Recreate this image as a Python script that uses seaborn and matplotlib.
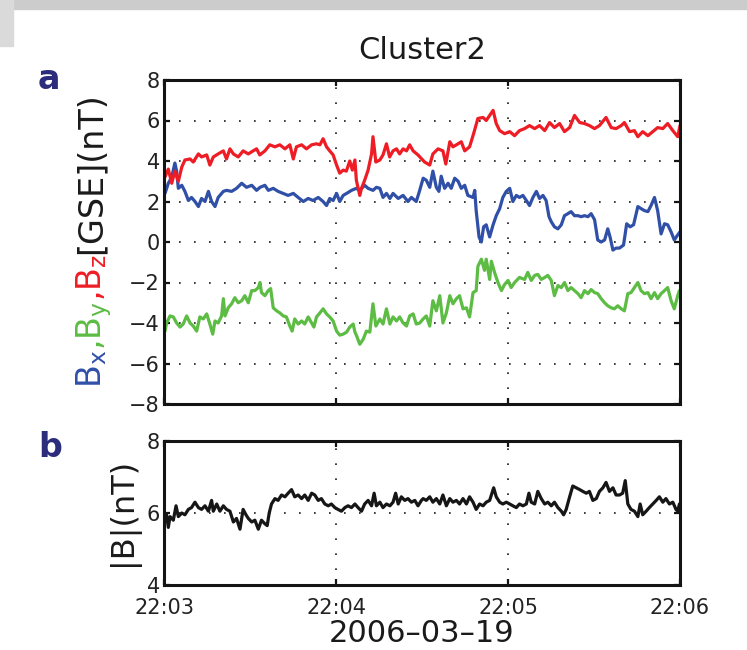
import matplotlib
matplotlib.use("Agg")
import numpy as np
import pandas as pd
import seaborn as sns
import matplotlib.pyplot as plt
from matplotlib.transforms import IdentityTransform
from matplotlib.patches import Rectangle

sns.set_style("ticks")
plt.rcParams["font.family"] = ["DejaVu Sans"]
plt.rcParams["mathtext.default"] = "regular"

# ---------------- data (seconds after 22:03:00, value in nT) ----------------
TITLE = "Cluster2"
DATE_LABEL = "2006\u201303\u201319"
TICK_SECONDS = [0, 60, 120, 180]
TICK_LABELS = ["22:03", "22:04", "22:05", "22:06"]
TOP_YTICKS = [-8, -6, -4, -2, 0, 2, 4, 6, 8]
BOTTOM_YTICKS = [4, 6, 8]

BX_SAMPLES = [(0.35,2.4),(1.5,2.9),(2.7,3.2),(3.8,3.9),(4.4,3.5),(5.0,2.65),(6.2,2.8),(7.3,2.5),(8.5,2.05),(9.6,2.2),(10.8,2.0),(12.0,1.75),(13.1,2.15),(14.3,2.0),(15.5,2.5),(16.6,2.0),(17.8,1.75),(18.9,2.2),(20.7,2.5),(21.8,2.55),(23.6,2.5),(25.3,2.65),(27.1,2.9),(28.8,2.7),(30.6,2.8),(32.3,2.55),(33.5,2.7),(35.2,2.8),(36.4,2.55),(38.1,2.65),(39.8,2.5),(41.6,2.4),(43.3,2.3),(45.1,2.4),(46.8,2.2),(48.6,2.0),(50.3,2.15),(52.0,2.05),(53.8,2.2),(55.5,2.0),(56.7,1.8),(57.8,2.15),(59.0,2.05),(60.2,2.4),(61.3,2.0),(62.5,2.3),(63.7,2.4),(65.4,2.55),(67.1,2.65),(68.3,2.55),(70.0,2.8),(71.2,2.65),(72.9,2.55),(74.1,2.7),(75.3,2.65),(76.4,2.2),(77.6,2.4),(78.8,2.15),(79.9,2.4),(81.7,2.15),(83.4,2.3),(85.1,2.0),(86.3,2.2),(88.0,2.0),(89.2,2.55),(90.4,3.15),(91.5,3.05),(92.7,2.7),(93.8,3.5),(95.0,2.7),(95.9,2.5),(96.7,3.25),(97.9,2.65),(99.1,2.9),(100.2,2.65),(101.4,3.15),(102.6,3.0),(103.7,2.65),(104.9,2.8),(106.0,2.3),(107.8,2.2),(108.4,2.55),(108.9,1.55),(109.9,0.25),(110.7,0.0),(111.5,0.75),(112.4,0.85),(113.6,0.25),(114.8,0.85),(115.9,1.3),(117.1,1.65),(118.2,2.2),(119.4,2.5),(120.6,2.65),(121.7,2.0),(122.9,2.3),(124.0,2.2),(125.2,2.3),(126.4,2.05),(127.5,1.8),(128.7,2.2),(129.9,2.5),(131.0,2.15),(132.2,2.3),(133.3,2.05),(134.3,1.25),(135.1,1.0),(136.2,0.75),(137.4,0.65),(138.6,0.85),(139.7,1.3),(140.9,1.4),(142.0,1.5),(143.2,1.3),(144.4,1.3),(145.5,1.25),(146.7,1.3),(147.9,1.25),(149.0,1.4),(150.2,1.1),(151.3,0.1),(152.5,0.0),(153.7,0.1),(154.8,0.65),(155.6,0.25),(156.6,-0.4),(157.7,-0.3),(158.9,-0.3),(160.3,-0.15),(161.4,0.9),(162.6,0.75),(163.8,0.85),(165.3,1.75),(166.4,1.65),(167.6,1.55),(168.8,1.5),(169.9,1.8),(171.1,2.2),(172.2,1.55),(173.4,0.4),(174.6,0.9),(175.7,0.85),(176.9,0.5),(178.0,0.1),(179.2,0.35),(180.0,0.5)]

BY_SAMPLES = [(0.35,-4.4),(0.9,-4.0),(2.1,-3.65),(3.25,-3.7),(4.4,-4.0),(5.6,-4.2),(6.7,-4.05),(7.9,-3.65),(9.1,-4.0),(10.2,-4.15),(11.4,-4.4),(12.5,-3.7),(13.7,-3.8),(14.9,-3.55),(16.0,-4.05),(17.0,-4.55),(17.8,-3.9),(18.9,-4.0),(20.1,-3.65),(20.7,-2.8),(21.3,-3.65),(22.4,-3.25),(23.6,-3.05),(24.7,-2.75),(25.9,-3.0),(27.1,-2.9),(28.2,-2.65),(29.4,-3.0),(30.6,-2.4),(31.7,-2.4),(32.9,-2.25),(33.5,-2.0),(34.0,-2.5),(35.2,-2.65),(36.35,-2.4),(37.2,-2.3),(38.1,-3.25),(39.3,-3.4),(40.4,-3.5),(41.6,-3.65),(42.7,-3.7),(43.9,-4.15),(44.7,-4.4),(45.6,-3.8),(46.8,-4.05),(48.0,-3.9),(49.1,-4.05),(50.3,-3.7),(51.5,-4.0),(52.3,-4.2),(53.2,-3.7),(54.4,-3.5),(55.5,-3.3),(56.7,-3.55),(57.8,-3.7),(59.0,-3.9),(60.2,-4.4),(61.3,-4.6),(62.5,-4.55),(63.7,-4.45),(64.8,-4.2),(66.0,-4.05),(66.6,-4.45),(67.1,-4.6),(68.3,-5.05),(69.5,-4.8),(70.6,-4.4),(71.8,-4.45),(72.9,-3.05),(73.9,-4.15),(75.3,-3.8),(76.4,-4.05),(77.6,-3.3),(78.8,-4.05),(79.9,-3.7),(81.1,-3.9),(82.2,-3.7),(83.4,-4.0),(84.6,-4.15),(85.7,-3.65),(86.9,-3.55),(88.0,-4.05),(89.2,-4.0),(90.4,-3.8),(91.5,-3.65),(92.7,-4.15),(93.8,-2.9),(95.0,-3.4),(96.2,-2.65),(97.3,-4.0),(98.5,-3.5),(99.7,-2.65),(100.8,-3.05),(102.0,-2.8),(103.1,-2.65),(104.3,-3.3),(105.5,-3.25),(106.6,-3.7),(107.8,-2.5),(108.9,-2.4),(109.5,-1.2),(110.7,-0.85),(111.8,-1.4),(112.4,-0.85),(113.6,-1.85),(114.2,-0.95),(115.3,-1.5),(116.5,-2.0),(117.7,-2.4),(118.8,-2.1),(120.0,-1.9),(121.1,-2.25),(122.3,-2.0),(124.0,-1.75),(125.8,-1.85),(126.9,-1.5),(128.1,-1.9),(129.3,-1.65),(130.4,-1.6),(131.6,-1.85),(132.8,-1.75),(133.9,-1.65),(135.1,-1.9),(136.2,-2.65),(137.4,-2.15),(138.6,-2.25),(139.7,-2.0),(140.9,-2.4),(142.0,-2.25),(143.2,-2.4),(144.4,-2.55),(145.5,-2.75),(146.7,-2.4),(147.9,-2.55),(149.0,-2.35),(150.2,-2.5),(151.3,-2.55),(152.5,-2.8),(153.7,-3.0),(154.8,-3.15),(156.0,-3.25),(157.1,-3.3),(158.3,-3.15),(159.5,-3.3),(160.6,-3.4),(161.8,-2.55),(162.9,-2.5),(164.1,-2.25),(165.3,-2.0),(166.4,-2.4),(167.6,-2.55),(168.8,-2.5),(169.9,-2.8),(171.1,-2.5),(172.2,-2.8),(173.4,-2.55),(174.6,-2.4),(175.7,-2.25),(176.9,-2.9),(178.0,-3.3),(179.2,-2.65),(179.8,-2.4)]

BZ_SAMPLES = [(0.3,3.2),(1.5,3.6),(2.7,2.9),(3.8,3.5),(5.0,3.0),(6.2,3.7),(7.3,4.05),(9.1,4.1),(10.2,3.95),(12.0,4.35),(13.1,4.2),(14.9,4.3),(16.0,3.8),(17.2,4.2),(18.9,4.35),(20.7,4.5),(21.8,4.1),(23.0,4.6),(24.2,4.35),(25.9,4.2),(27.6,4.5),(29.4,4.35),(31.1,4.5),(32.3,4.6),(33.4,4.3),(35.2,4.5),(36.9,4.8),(38.7,4.7),(40.4,4.8),(42.2,4.6),(43.9,4.8),(45.1,4.1),(46.2,4.7),(48.0,4.8),(49.7,4.6),(51.5,4.8),(53.2,4.85),(54.4,4.8),(55.5,5.1),(56.7,4.7),(57.8,4.5),(59.0,4.3),(60.2,3.8),(61.3,3.4),(62.5,3.55),(63.6,3.5),(64.8,4.0),(65.7,3.55),(66.6,4.05),(67.1,3.05),(68.3,2.3),(68.9,2.65),(70.0,3.05),(71.2,3.55),(72.4,4.35),(72.9,5.2),(73.9,3.95),(75.3,4.05),(76.4,4.3),(77.6,4.85),(78.7,4.2),(79.9,4.5),(81.1,4.6),(82.2,4.35),(83.4,4.6),(84.6,4.5),(85.7,4.8),(86.9,4.5),(88.6,4.3),(90.9,3.95),(92.7,3.8),(93.8,4.35),(95.6,4.6),(97.3,4.5),(98.3,3.85),(99.7,4.95),(100.8,4.7),(102.6,4.85),(103.7,4.95),(104.9,4.5),(106.6,4.7),(108.0,5.35),(109.5,6.1),(111.3,6.15),(112.4,6.0),(113.6,6.25),(114.8,6.5),(115.9,5.85),(117.1,5.5),(118.8,5.35),(120.6,5.45),(122.3,5.25),(124.0,5.5),(125.8,5.6),(127.5,5.75),(129.3,5.6),(131.0,5.75),(132.8,5.5),(134.5,5.9),(136.2,5.65),(138.0,5.85),(139.7,5.45),(141.5,5.65),(143.2,6.25),(145.0,5.9),(146.7,5.85),(148.4,5.75),(150.2,5.6),(151.9,5.75),(154.2,6.15),(156.0,5.65),(157.7,5.6),(159.5,5.75),(160.6,5.9),(162.4,5.45),(164.1,5.5),(165.3,5.2),(167.0,5.45),(168.8,5.25),(170.5,5.45),(172.2,5.65),(174.0,5.6),(175.7,5.85),(177.5,5.5),(179.2,5.2),(180.0,5.75)]

BT_SAMPLES = [(0.35,5.9),(0.9,5.95),(1.5,5.6),(2.1,5.9),(3.25,5.8),(4.2,6.2),(5.0,5.9),(6.2,6.0),(7.3,5.95),(8.5,6.1),(9.6,6.15),(10.8,6.3),(12.0,6.15),(13.1,6.1),(14.3,6.2),(15.5,6.05),(16.6,6.35),(17.2,6.05),(18.4,6.25),(19.5,6.05),(20.7,6.2),(21.8,6.1),(23.0,6.05),(24.2,5.75),(25.3,5.85),(26.5,5.55),(27.6,6.1),(28.6,5.95),(29.4,5.85),(30.6,5.75),(31.7,5.8),(32.9,5.55),(34.0,5.8),(35.2,5.7),(36.0,5.65),(36.7,6.0),(37.5,6.25),(38.7,6.4),(39.8,6.35),(41.0,6.5),(42.2,6.45),(43.3,6.55),(44.5,6.65),(45.6,6.45),(46.8,6.5),(48.0,6.4),(49.1,6.5),(50.3,6.35),(51.5,6.55),(52.6,6.5),(53.8,6.35),(54.9,6.4),(56.1,6.25),(57.3,6.2),(58.4,6.25),(59.6,6.15),(60.7,6.1),(61.9,6.05),(63.1,6.15),(64.2,6.2),(65.4,6.15),(66.6,6.25),(67.7,6.15),(68.9,6.05),(70.0,6.25),(71.2,6.35),(72.4,6.2),(73.3,6.55),(74.1,6.2),(75.3,6.3),(76.4,6.15),(77.6,6.25),(78.8,6.2),(79.9,6.3),(80.8,6.55),(81.7,6.25),(82.8,6.45),(84.0,6.35),(85.1,6.4),(86.3,6.3),(87.5,6.35),(88.6,6.2),(89.8,6.35),(90.4,6.4),(91.5,6.35),(92.7,6.45),(93.8,6.3),(95.0,6.4),(96.2,6.25),(97.3,6.5),(98.5,6.2),(99.7,6.4),(100.8,6.3),(102.0,6.35),(103.1,6.25),(104.3,6.4),(105.5,6.25),(106.6,6.45),(107.8,6.3),(108.9,6.1),(110.1,6.25),(111.3,6.2),(112.4,6.3),(113.6,6.35),(115.0,6.7),(115.9,6.45),(117.1,6.3),(118.2,6.25),(119.4,6.3),(120.6,6.25),(121.7,6.2),(122.9,6.15),(124.0,6.25),(125.2,6.2),(126.4,6.25),(127.3,6.55),(128.1,6.3),(129.3,6.25),(130.4,6.6),(131.6,6.4),(132.8,6.25),(133.9,6.3),(135.1,6.2),(136.2,6.3),(137.4,6.15),(138.6,6.05),(139.4,5.95),(140.3,6.1),(141.5,6.45),(142.6,6.75),(143.8,6.7),(145.0,6.65),(146.1,6.6),(147.3,6.55),(148.4,6.6),(149.6,6.35),(150.8,6.4),(151.9,6.6),(153.1,6.7),(154.2,6.85),(155.4,6.6),(156.6,6.7),(157.7,6.5),(158.9,6.5),(160.0,6.55),(160.9,6.9),(161.8,6.25),(162.9,6.1),(164.1,6.05),(165.3,5.9),(166.1,6.25),(167.0,5.95),(168.2,6.05),(169.3,6.15),(170.5,6.25),(171.7,6.35),(172.8,6.45),(174.0,6.3),(175.1,6.4),(176.3,6.25),(177.5,6.3),(178.6,6.1),(179.2,6.05),(179.8,6.25)]

COL_X = "#3050a8"
COL_Y = "#5cbc44"
COL_Z = "#ee1d25"
COL_T = "#161616"
COL_PANEL = "#2b2d7c"


def frame(samples):
    t, v = zip(*samples)
    return pd.DataFrame({"t": np.array(t, float), "v": np.array(v, float)})


W, H = 747, 650
fig = plt.figure(figsize=(W / 100, H / 100), dpi=100)
fig.patch.set_facecolor("white")
# faint scan border at top / left
fig.patches.append(Rectangle((0, 1 - 9 / H), 1, 9 / H, transform=fig.transFigure,
                             color="#cccccc", zorder=-5))
fig.patches.append(Rectangle((0, 1 - 46 / H), 13 / W, 46 / H, transform=fig.transFigure,
                             color="#dadada", zorder=-5))

ax1 = fig.add_axes([164 / W, 1 - 404 / H, 516 / W, 324 / H])
ax2 = fig.add_axes([164 / W, 1 - 585 / H, 516 / W, 144 / H])

LW = 2.3
for samples, col in [(BY_SAMPLES, COL_Y), (BX_SAMPLES, COL_X), (BZ_SAMPLES, COL_Z)]:
    sns.lineplot(data=frame(samples), x="t", y="v", ax=ax1, color=col,
                 linewidth=LW, estimator=None, sort=True)
sns.lineplot(data=frame(BT_SAMPLES), x="t", y="v", ax=ax2, color=COL_T,
             linewidth=LW, estimator=None, sort=True)


def style(ax, yticks, ylim):
    ax.set_xlim(TICK_SECONDS[0], TICK_SECONDS[-1])
    ax.set_ylim(*ylim)
    ax.set_xticks(TICK_SECONDS)
    ax.set_yticks(yticks)
    ax.set_xlabel("")
    ax.set_ylabel("")
    for s in ax.spines.values():
        s.set_visible(True)
        s.set_linewidth(2.2)
        s.set_color("#141414")
    ax.tick_params(direction="in", length=4, width=1.6, top=True, right=True,
                   labelsize=15, colors="#141414", labelcolor="#222222")
    ax.tick_params(axis="y", pad=3)
    ax.grid(True, linestyle=(0, (1, 8)), linewidth=1.2, color="#1a1a1a")
    ax.set_axisbelow(True)


style(ax1, TOP_YTICKS, (-8, 8))
style(ax2, BOTTOM_YTICKS, (4, 8))
ax1.set_xticklabels([])
ax2.set_xticklabels(TICK_LABELS)
ax2.tick_params(axis="x", pad=9)

# title, panel letters, date label
fig.text(422 / W, 1 - 59 / H, TITLE, ha="center", va="baseline", fontsize=22, color="#1a1a1a")
fig.text(38 / W, 1 - 89 / H, "a", ha="left", va="baseline", fontsize=24,
         fontweight="bold", color=COL_PANEL)
fig.text(38 / W, 1 - 457 / H, "b", ha="left", va="baseline", fontsize=24,
         fontweight="bold", color=COL_PANEL)
fig.text(422 / W, 1 - 642 / H, DATE_LABEL, ha="center", va="baseline", fontsize=22,
         color="#1a1a1a")

# multi-coloured rotated y label for panel a
fig.canvas.draw()
renderer = fig.canvas.get_renderer()


def rotated_label(pieces, base_x, center_y, size):
    texts = []
    cursor = 0.0
    for s, col in pieces:
        t = fig.text(base_x, cursor, s, rotation=90, rotation_mode="anchor",
                     ha="left", va="baseline", fontsize=size, color=col,
                     transform=IdentityTransform())
        bb = t.get_window_extent(renderer)
        texts.append((t, cursor))
        cursor = bb.y1
    shift = center_y - cursor / 2.0
    for t, y in texts:
        t.set_position((base_x, y + shift))


rotated_label([(r"$B_x$", COL_X), (r",$B_y$", COL_Y), (r",$B_z$", COL_Z),
               ("[GSE](nT)", "#1a1a1a")], 101, H - 240, 24)
rotated_label([("|B|(nT)", "#1a1a1a")], 131, H - 512, 23)

fig.savefig("out.png", dpi=100)
